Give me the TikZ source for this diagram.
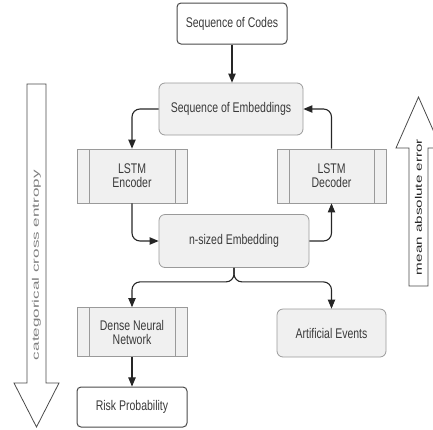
\documentclass[tikz,border=0pt]{standalone}
\usepackage{fontspec}
\setmainfont{Liberation Sans}
\newfontfamily\boxfont[FakeStretch=0.75]{Liberation Sans}
\usetikzlibrary{arrows, calc}
\definecolor{boxfill}{HTML}{F0F0F0}
\definecolor{boxline}{HTML}{9A9A9A}
\definecolor{darkline}{HTML}{4A4A4A}
\definecolor{labeltext}{HTML}{3A3A3A}

\begin{document}
\begin{tikzpicture}[x=1pt, y=-1pt, every text node part/.style={align=center}]

\tikzstyle{box}=[draw=boxline, fill=boxfill, rounded corners=6pt, line width=0.8pt, text=labeltext, inner sep=0pt, font=\boxfont\fontsize{14}{14}\selectfont]
\tikzstyle{term}=[box, draw=darkline, fill=white, rounded corners=4pt, line width=1pt]
\tikzstyle{proc}=[box, rounded corners=0pt, path picture={
    \draw [boxline, line width=0.8pt]
        ([xshift=12pt]path picture bounding box.north west) -- ([xshift=12pt]path picture bounding box.south west)
        ([xshift=-12pt]path picture bounding box.north east) -- ([xshift=-12pt]path picture bounding box.south east);
}]
\tikzstyle{arr}=[draw=black!85, line width=1.1pt, -triangle 45, rounded corners=8pt]
\tikzstyle{bigarrow}=[draw=darkline, line width=0.8pt, fill=white]
\tikzstyle{loss}=[inner sep=0pt, font=\fontsize{9.5}{9.5}\selectfont]

\useasboundingbox (0,0) rectangle (433,429);

\node (codes) [term, minimum width=110, minimum height=41] at (232,23.5) {Sequence of Codes};
\node (semb) [box, minimum width=144, minimum height=52] at (231,109) {Sequence of Embeddings};

\node (enc) [proc, minimum width=110, minimum height=54] at (132,176) {LSTM\\Encoder};
\node (dec) [proc, minimum width=109, minimum height=54] at (331.5,176) {LSTM\\Decoder};

\node (nemb) [box, minimum width=150, minimum height=53] at (234,241) {n-sized Embedding};

\node (dnn) [proc, minimum width=110, minimum height=49] at (132,332) {Dense Neural\\Network};
\node (art) [box, minimum width=109, minimum height=48] at (331.5,333) {Artificial Events};
\node (risk) [term, minimum width=110, minimum height=40] at (132,407) {Risk Probability};

\coordinate (split) at ($(nemb.south)+(0,14)$);

\path [arr] (codes.south) -- (codes.south |- semb.north);
\path [arr] (semb.west) -| (enc.north);
\path [arr] (dec.north) |- (semb.east);
\path [arr] (enc.south) |- (nemb.west);
\path [arr] (nemb.east) -| (dec.south);
\path [arr] (nemb.south) |- (split -| dnn.north) -- (dnn.north);
\path [arr] (nemb.south) |- (split -| art.north) -- (art.north);
\path [arr] (dnn.south) -- (risk.north);

% loss arrows
\path [bigarrow] (27,84) -- (46,84) -- (46,383) -- (59,383) -- (36.5,427)
    -- (14,383) -- (27,383) -- cycle;
\node (cce) [loss, text=gray] at (36.5,265) {\rotatebox{90}{\scalebox{1.8}[1]{categorical cross entropy}}};

\path [bigarrow] (409,286) -- (409,148) -- (396,148) -- (418.5,97) -- (441,148)
    -- (428,148) -- (428,286) -- cycle;
\node (mae) [loss, text=black!85] at (418.5,207) {\rotatebox{90}{\scalebox{1.6}[1]{mean absolute error}}};

\end{tikzpicture}
\end{document}
